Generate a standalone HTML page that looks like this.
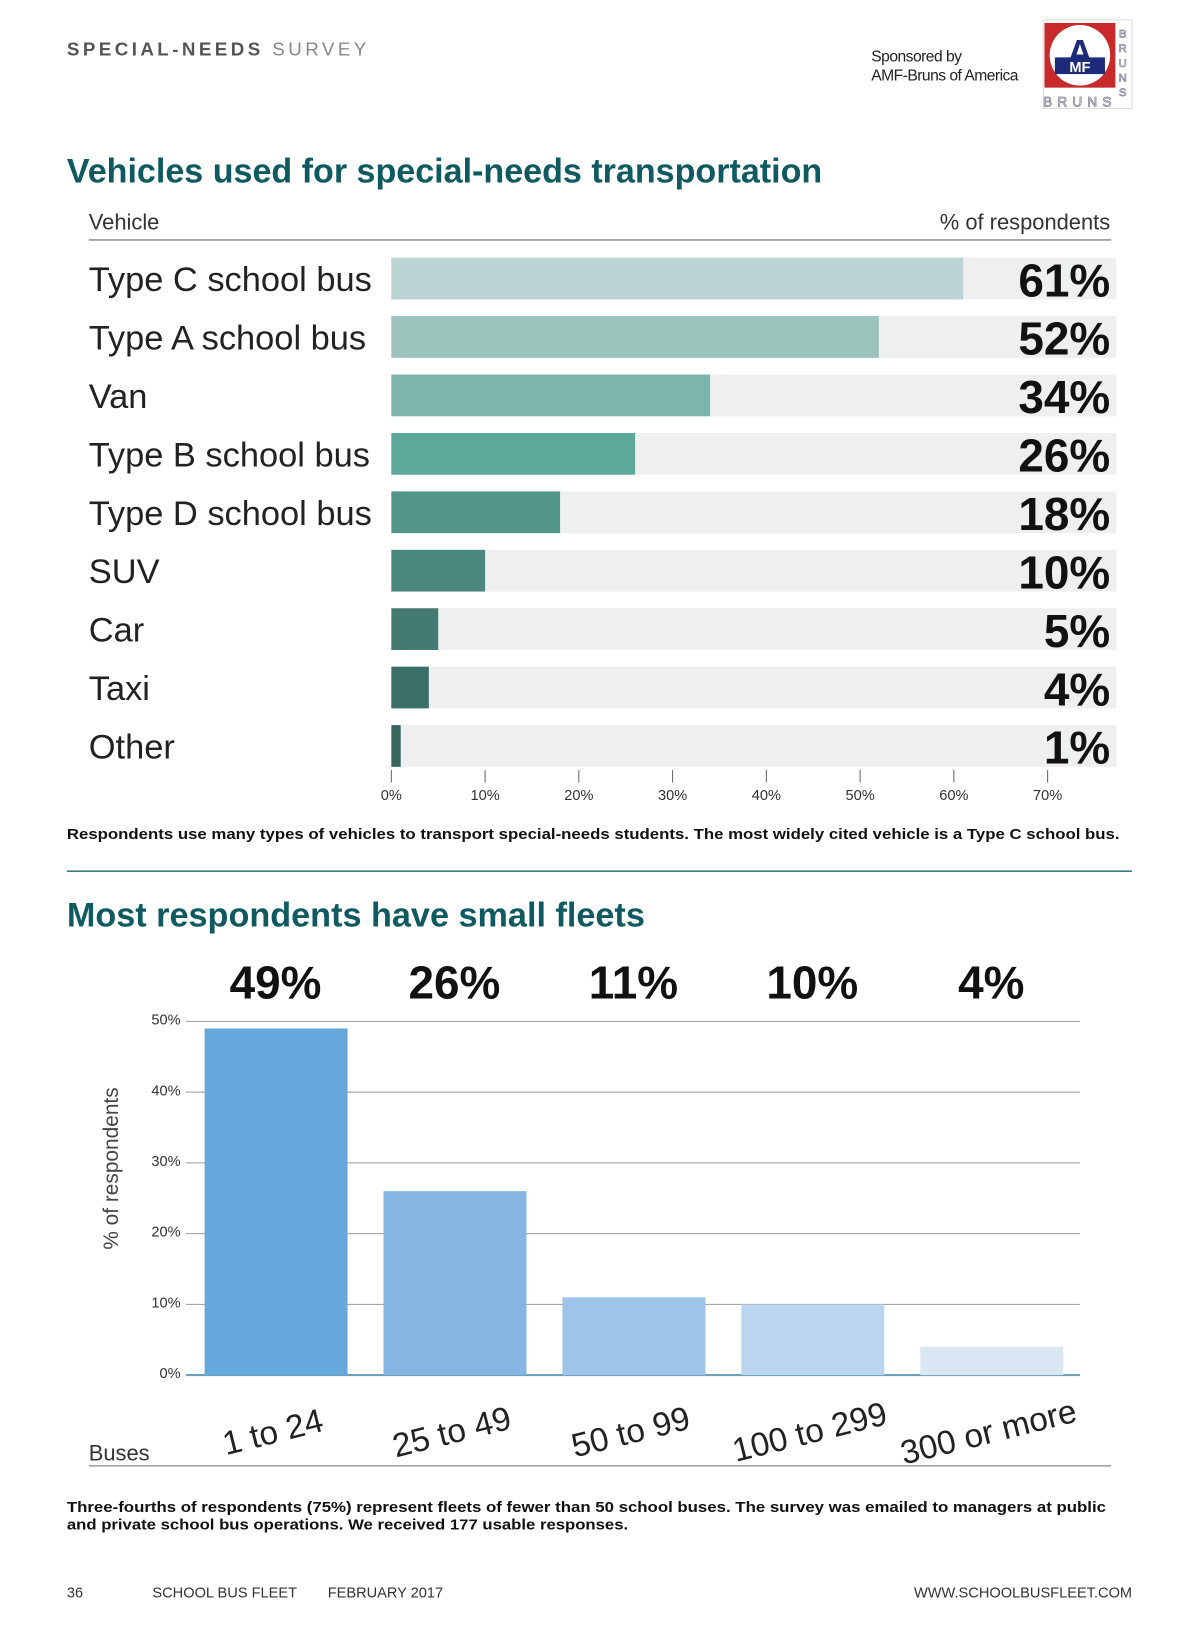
<!DOCTYPE html>
<html><head><meta charset="utf-8">
<style>
html,body{margin:0;padding:0;background:#fff;}
svg{display:block;}
text{font-family:"Liberation Sans",sans-serif;}
</style></head>
<body>
<svg id="page" width="1200" height="1638" viewBox="0 0 1150 1570" xmlns="http://www.w3.org/2000/svg">
<text x="64" y="53" font-size="18" font-weight="bold" fill="#555" textLength="287" lengthAdjust="spacing">SPECIAL-NEEDS <tspan fill="#888" font-weight="normal">SURVEY</tspan></text>
<text x="835" y="59" font-size="15" fill="#222" letter-spacing="-0.5">Sponsored by</text>
<text x="835" y="77" font-size="15" fill="#222" letter-spacing="-0.5">AMF-Bruns of America</text>
<g>
<rect x="1000" y="19" width="85" height="85" fill="#fff" stroke="#ddd"/>
<rect x="1001" y="22" width="68" height="62" fill="#c62a2a"/>
<circle cx="1035" cy="53" r="29" fill="#fff"/>
<text x="1035" y="62" font-size="34" font-weight="bold" fill="#1d2b7a" text-anchor="middle">A</text>
<rect x="1011" y="55" width="48" height="16" fill="#1d2b7a"/>
<text x="1035" y="69" font-size="14" font-weight="bold" fill="#fff" text-anchor="middle">MF</text>
<text x="1035" y="102" font-size="13" fill="#fff" stroke="#889" stroke-width="0.8" text-anchor="middle" letter-spacing="5">BRUNS</text>
<text x="1076" y="36" font-size="11" fill="#fff" stroke="#889" stroke-width="0.7" text-anchor="middle">B</text>
<text x="1076" y="50" font-size="11" fill="#fff" stroke="#889" stroke-width="0.7" text-anchor="middle">R</text>
<text x="1076" y="64" font-size="11" fill="#fff" stroke="#889" stroke-width="0.7" text-anchor="middle">U</text>
<text x="1076" y="78" font-size="11" fill="#fff" stroke="#889" stroke-width="0.7" text-anchor="middle">N</text>
<text x="1076" y="92" font-size="11" fill="#fff" stroke="#889" stroke-width="0.7" text-anchor="middle">S</text>
</g>
<text x="64" y="175" font-size="33" font-weight="bold" fill="#0f5a61" textLength="724" lengthAdjust="spacingAndGlyphs">Vehicles used for special-needs transportation</text>
<text x="85" y="220" font-size="21" fill="#333">Vehicle</text>
<text x="1064" y="220" font-size="21" fill="#333" text-anchor="end">% of respondents</text>
<line x1="85" y1="230" x2="1065" y2="230" stroke="#999" stroke-width="1.5"/>
<g id="chart1"></g>
<text x="64" y="804" font-size="14" font-weight="bold" fill="#111" textLength="1009" lengthAdjust="spacingAndGlyphs">Respondents use many types of vehicles to transport special-needs students. The most widely cited vehicle is a Type C school bus.</text>
<line x1="64" y1="835" x2="1085" y2="835" stroke="#3f7a85" stroke-width="1.5"/>
<text x="64" y="888" font-size="33" font-weight="bold" fill="#0f5a61" textLength="554" lengthAdjust="spacingAndGlyphs">Most respondents have small fleets</text>
<g id="chart2"></g>
<text transform="translate(113,1120) rotate(-90)" font-size="20" fill="#444" text-anchor="middle">% of respondents</text>
<text x="85" y="1400" font-size="21" fill="#333">Buses</text>
<line x1="85" y1="1405" x2="1065" y2="1405" stroke="#999" stroke-width="1.5"/>
<text x="64" y="1449" font-size="14" font-weight="bold" fill="#111" textLength="996" lengthAdjust="spacingAndGlyphs">Three-fourths of respondents (75%) represent fleets of fewer than 50 school buses. The survey was emailed to managers at public</text>
<text x="64" y="1466" font-size="14" font-weight="bold" fill="#111" textLength="538" lengthAdjust="spacingAndGlyphs">and private school bus operations. We received 177 usable responses.</text>
<text x="64" y="1531" font-size="14" fill="#333">36</text>
<text x="146" y="1531" font-size="14" fill="#333">SCHOOL BUS FLEET</text>
<text x="314" y="1531" font-size="14" fill="#333">FEBRUARY 2017</text>
<text x="1085" y="1531" font-size="14" fill="#333" text-anchor="end">WWW.SCHOOLBUSFLEET.COM</text>
</svg>
<script>
const vehicleCategories = ["Type C school bus","Type A school bus","Van","Type B school bus","Type D school bus","SUV","Car","Taxi","Other"];
const vehicleValues = [61,52,34,26,18,10,5,4,1];
const vehicleTicks = [0,10,20,30,40,50,60,70];
const vehicleColors = ["#b9d4d2","#9bc3bb","#7db4ab","#5ca89b","#52968a","#4a8880","#437b71","#3b6e66","#35675f"];
const fleetCategories = ["1 to 24","25 to 49","50 to 99","100 to 299","300 or more"];
const fleetValues = [49,26,11,10,4];
const fleetTicks = [0,10,20,30,40,50];
const fleetColors = ["#64a8dc","#84b5e3","#9ec4e9","#bcd5ef","#d9e7f5"];

const NS = "http://www.w3.org/2000/svg";
function mk(parent, tag, attrs, txt){
  const e = document.createElementNS(NS, tag);
  for (const k in attrs) e.setAttribute(k, attrs[k]);
  if (txt !== undefined) e.textContent = txt;
  parent.appendChild(e);
  return e;
}
const c1 = document.getElementById('chart1');
const x1 = v => 375 + v * 8.986;
const rowY = i => 247 + i * 56;
vehicleCategories.forEach((cat, i) => {
  const y = rowY(i);
  const bg = mk(c1, 'rect', {x:375, y:y, width:695, height:40, fill:'#eef0f0'});
  
  
  const b = mk(c1, 'rect', {x:x1(0), y:y, width:x1(vehicleValues[i]) - x1(0), height:40, fill:vehicleColors[i]});
  
  
  const l = mk(c1, 'text', {x:85, y:y + 32, 'font-size':33, fill:'#222'}, cat);
  
  
  const v = mk(c1, 'text', {x:1064, y:y + 37, 'font-size':44, 'font-weight':'bold', fill:'#111', 'text-anchor':'end'}, vehicleValues[i] + '%');
  
  
});
vehicleTicks.forEach(t => {
  const tk = mk(c1, 'line', {x1:x1(t), y1:738, x2:x1(t), y2:750, stroke:'#666', 'stroke-width':1});
  
  
  const tl = mk(c1, 'text', {x:x1(t), y:767, 'font-size':14, fill:'#333', 'text-anchor':'middle'}, t + '%');
  
  
});
const c2 = document.getElementById('chart2');
const y2 = v => 1318 - v * 6.78;
const bx = i => 196 + i * 171.5;
fleetTicks.forEach(t => {
  const g = mk(c2, 'line', {x1:178, y1:y2(t), x2:1035, y2:y2(t), stroke: t === 0 ? '#6f9fb8' : '#999', 'stroke-width': t === 0 ? 2 : 1});
  
  
  const tl = mk(c2, 'text', {x:173, y:y2(t) + 3, 'font-size':14, fill:'#333', 'text-anchor':'end'}, t + '%');
  
  
});
fleetCategories.forEach((cat, i) => {
  const b = mk(c2, 'rect', {x:bx(i), y:y2(fleetValues[i]), width:137, height:y2(0) - y2(fleetValues[i]), fill:fleetColors[i]});
  
  
  const v = mk(c2, 'text', {x:bx(i) + 68, y:957, 'font-size':44, 'font-weight':'bold', fill:'#111', 'text-anchor':'middle'}, fleetValues[i] + '%');
  
  
  const cx = bx(i) + 68, cy = 1383;
  const l = mk(c2, 'text', {x:cx, y:cy, 'font-size':32, fill:'#222', 'text-anchor':'middle', transform:'rotate(-14 ' + cx + ' ' + cy + ')'}, cat);
  
  
});
</script>
</body></html>
